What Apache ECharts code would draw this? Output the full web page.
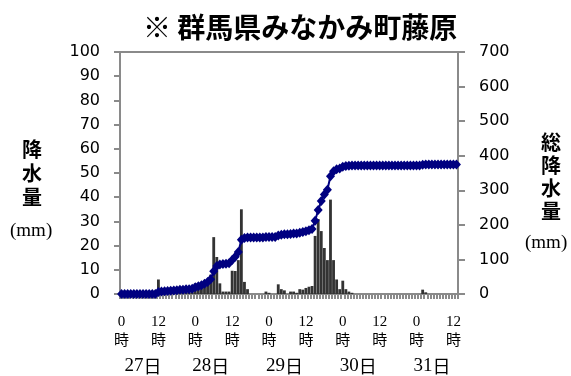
<!DOCTYPE html>
<html>
<head>
<meta charset="utf-8">
<script src="https://cdn.jsdelivr.net/npm/echarts@6/dist/echarts.min.js"></script>
<style>
html,body{margin:0;padding:0;background:#fff;}
#c{width:571px;height:376px;}
</style>
</head>
<body>
<div id="c"></div>
<script>
// ---- data ----
const title = '※ 群馬県みなかみ町藤原';
const days = [27, 28, 29, 30, 31];
const hourCount = 110; // 27日0時 .. 31日13時
// hourly rainfall (mm), left axis
const rain = [
  0,0,0,0,0,0,0,0,0,0,0,0,
  6,
  1,1,0.5,1,0.5,1,1,0.5,1,0.5,1,
  4.4,3,3,4,5,8,
  23.5,15.3,4.4,1,1,1,
  9.6,9.5,14,35,5,2,
  0,0,0,0,0,
  1,0.5,0,0,4,2,1.5,0,1,1,0.5,2,1.8,2.5,3,3.3,
  24,31,26,19,14,39,14,6,2,5.5,2,1,0.5,
  0,0,0,0,0,0,0,0,0,0,0,0,0,0,0,0,0,0,0,0,0,0,
  1.8,0.7,
  0,0,0,0,0,0,0,0,0,0
];
const leftTicks = {min: 0, max: 100, interval: 10};
const rightTicks = {min: 0, max: 700, interval: 100};
const leftName = '降水量';
const rightName = '総降水量';
const unit = '(mm)';

// categories
const categories = [];
for (let i = 0; i < hourCount; i++) {
  const d = days[Math.floor(i / 24)];
  categories.push(d + '日' + (i % 24) + '時');
}
// cumulative rainfall (right axis)
const total = [];
let acc = 0;
for (const r of rain) { acc += r; total.push(+acc.toFixed(1)); }

const gray = '#8a8a8a';
const chart = echarts.init(document.getElementById('c'), null, {renderer: 'canvas'});
chart.setOption({
  animation: false,
  backgroundColor: '#fff',
  title: {
    text: title, left: 138, top: 8,
    textStyle: {fontFamily: 'Noto Sans CJK JP', fontWeight: 'bold', fontSize: 28, color: '#000'}
  },
  grid: {left: 120, right: 113, top: 52, bottom: 81, show: false},
  xAxis: [{
    type: 'category', data: categories, boundaryGap: true,
    axisLine: {lineStyle: {color: gray, width: 2}},
    axisTick: {show: true, interval: 0, length: 5, lineStyle: {color: gray, width: 2}},
    axisLabel: {
      interval: (i) => i % 12 === 0,
      margin: 20,
      formatter: (v) => {
        const h = v.replace(/^\d+日/, '').replace('時', '');
        return '{n|' + h + '}\n{j|時}';
      },
      rich: {
        n: {fontFamily: 'Liberation Serif', fontSize: 15, color: '#000', lineHeight: 17},
        j: {fontFamily: 'Noto Sans CJK JP', fontSize: 15, color: '#000', lineHeight: 17}
      }
    },
    splitLine: {show: false}
  }, {
    type: 'category', data: categories, boundaryGap: true, position: 'bottom',
    axisLine: {show: false}, axisTick: {show: false}, splitLine: {show: false},
    axisLabel: {
      interval: (i) => i === 7 || (i >= 24 && i % 24 === 5),
      margin: 63,
      formatter: (v) => {
        const d = v.replace(/日.*$/, '');
        return '{n|' + d + '}{j|日}';
      },
      rich: {
        n: {fontFamily: 'Liberation Serif', fontSize: 19, color: '#000'},
        j: {fontFamily: 'Noto Sans CJK JP', fontSize: 18, color: '#000'}
      }
    }
  }, {
    type: 'category', data: categories, boundaryGap: true, position: 'top',
    axisLine: {show: true, lineStyle: {color: gray, width: 2}},
    axisTick: {show: false}, axisLabel: {show: false}, splitLine: {show: false}
  }],
  yAxis: [{
    type: 'value', min: leftTicks.min, max: leftTicks.max, interval: leftTicks.interval, position: 'left',
    axisLine: {show: true, lineStyle: {color: gray, width: 2}},
    axisTick: {show: true, length: 6, lineStyle: {color: gray, width: 2}},
    axisLabel: {margin: 20, fontFamily: 'DejaVu Sans', fontSize: 16, color: '#000'},
    splitLine: {show: false}
  }, {
    type: 'value', min: rightTicks.min, max: rightTicks.max, interval: rightTicks.interval, position: 'right',
    axisLine: {show: true, onZero: false, lineStyle: {color: gray, width: 2}},
    axisTick: {show: true, length: 7, lineStyle: {color: gray, width: 2}},
    axisLabel: {margin: 21, fontFamily: 'DejaVu Sans', fontSize: 16, color: '#000'},
    splitLine: {show: false}
  }],
  graphic: [
    {type: 'text', left: 22, top: 137, style: {text: leftName.split('').join('\n'), fontFamily: 'Noto Sans CJK JP', fontWeight: 'bold', fontSize: 20, lineHeight: 24, fill: '#000'}},
    {type: 'text', left: 10, top: 222, style: {text: unit, fontFamily: 'Liberation Serif', fontSize: 19, fill: '#000'}},
    {type: 'text', left: 541, top: 131, style: {text: rightName.split('').join('\n'), fontFamily: 'Noto Sans CJK JP', fontWeight: 'bold', fontSize: 20, lineHeight: 23, fill: '#000'}},
    {type: 'text', left: 525, top: 234, style: {text: unit, fontFamily: 'Liberation Serif', fontSize: 19, fill: '#000'}}
  ],
  series: [{
    type: 'bar', name: '降水量', xAxisIndex: 0, yAxisIndex: 0, data: rain,
    barCategoryGap: '8%', itemStyle: {color: '#333333'}, z: 2
  }, {
    type: 'line', name: '総降水量', xAxisIndex: 0, yAxisIndex: 1, data: total,
    symbol: 'diamond', symbolSize: [9, 10], showSymbol: true, showAllSymbol: true,
    lineStyle: {color: '#000080', width: 2}, itemStyle: {color: '#000080'}, z: 3
  }]
});
</script>
</body>
</html>
